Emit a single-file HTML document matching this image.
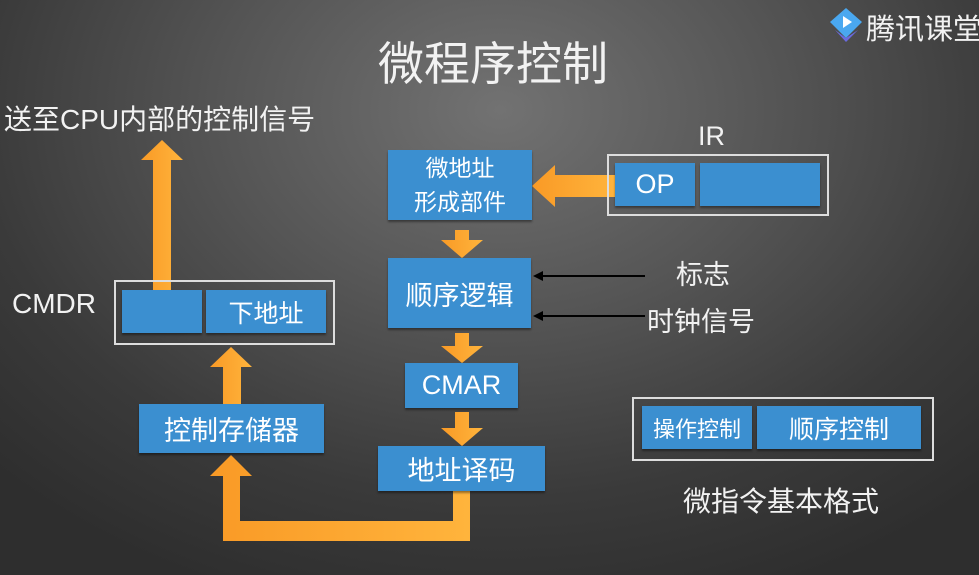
<!DOCTYPE html>
<html><head><meta charset="utf-8"><style>
body{margin:0;width:979px;height:575px;overflow:hidden;background:radial-gradient(ellipse 700px 520px at 500px 110px,#727272 0%,#555 40%,#3a3a3a 75%,#2e2e2e 100%);font-family:"Liberation Sans","Noto Sans CJK SC",sans-serif;color:#f2f2f2;position:relative}
.b{position:absolute;background:#3b8fd0;color:#fff;display:flex;align-items:center;justify-content:center;text-align:center;box-shadow:0 2px 2px rgba(0,0,0,.4)}
.o{position:absolute;border:2px solid #ddd;box-sizing:border-box}
.t{position:absolute;white-space:nowrap}
</style></head><body>
<svg width="979" height="575" style="position:absolute;left:0;top:0">
<defs><linearGradient id="g" x1="0" x2="1"><stop offset="0" stop-color="#f99a26"/><stop offset="1" stop-color="#ffb43c"/></linearGradient></defs>
<g fill="url(#g)">
<polygon points="555,175 615,175 615,197 555,197 555,207 532,186 555,165"/>
<polygon points="455,230 469,230 469,240 483,240 462,258 441,240 455,240"/>
<polygon points="455,333 469,333 469,346 483,346 462,363 441,346 455,346"/>
<polygon points="455,412 469,412 469,428 483,428 462,446 441,428 455,428"/>
<polygon points="453,491 470,491 470,541 223,541 223,476 210,476 231,455 252,476 240,476 240,521 453,521"/>
<polygon points="223,404 241,404 241,367 252,367 231,347 210,367 223,367"/>
<polygon points="153,290 171,290 171,160 183,160 162,140 141,160 153,160"/>
</g>
<g stroke="#000" stroke-width="2"><line x1="645" y1="276" x2="540" y2="276"/><line x1="645" y1="316" x2="540" y2="316"/></g>
<polygon points="533,276 543,271 543,281" fill="#000"/><polygon points="533,316 543,311 543,321" fill="#000"/>
<polygon points="830,22 846,8 862,22 846,38" fill="#4aa8f0"/><polygon points="835,30 846,42 858,30 846,38" fill="#6a6ae0"/><polygon points="843,16 852,22 843,28" fill="#fff"/>
</svg>
<div class="t" style="left:866px;top:6px;font-size:29px">腾讯课堂</div>
<div class="t" style="left:378px;top:28px;font-size:46px">微程序控制</div>
<div class="t" style="left:4px;top:98px;font-size:28px">送至CPU内部的控制信号</div>
<div class="t" style="left:698px;top:121px;font-size:27px">IR</div>
<div class="t" style="left:12px;top:288px;font-size:28px">CMDR</div>
<div class="t" style="left:676px;top:253px;font-size:27px">标志</div>
<div class="t" style="left:647px;top:300px;font-size:27px">时钟信号</div>
<div class="t" style="left:683px;top:480px;font-size:28px">微指令基本格式</div>
<div class="b" style="left:388px;top:150px;width:144px;height:70px;font-size:23px;line-height:34px">微地址<br>形成部件</div>
<div class="o" style="left:607px;top:154px;width:222px;height:62px"></div>
<div class="b" style="left:615px;top:163px;width:80px;height:43px;font-size:27px">OP</div>
<div class="b" style="left:700px;top:163px;width:120px;height:43px"></div>
<div class="b" style="left:388px;top:258px;width:143px;height:70px;font-size:27px">顺序逻辑</div>
<div class="b" style="left:405px;top:363px;width:113px;height:45px;font-size:27px">CMAR</div>
<div class="b" style="left:378px;top:446px;width:167px;height:45px;font-size:27px">地址译码</div>
<div class="b" style="left:139px;top:404px;width:185px;height:49px;font-size:27px">控制存储器</div>
<div class="o" style="left:114px;top:280px;width:221px;height:65px"></div>
<div class="b" style="left:122px;top:290px;width:80px;height:43px"></div>
<div class="b" style="left:206px;top:290px;width:120px;height:43px;font-size:25px">下地址</div>
<div class="o" style="left:632px;top:397px;width:302px;height:64px"></div>
<div class="b" style="left:642px;top:406px;width:110px;height:43px;font-size:22px">操作控制</div>
<div class="b" style="left:757px;top:406px;width:164px;height:43px;font-size:25px">顺序控制</div>
</body></html>
